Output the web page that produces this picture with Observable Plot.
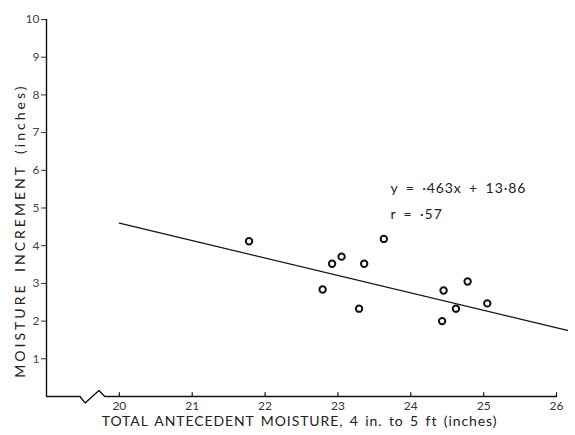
<!DOCTYPE html>
<html>
<head>
<meta charset="utf-8">
<script src="https://cdn.jsdelivr.net/npm/d3@7"></script>
<script src="https://cdn.jsdelivr.net/npm/@observablehq/plot@0.6"></script>
<style>
  html, body { margin: 0; padding: 0; background: #fff; }
  #chart svg { display: block; }
</style>
</head>
<body>
<div id="chart"></div>
<script>
// Observations: total antecedent moisture (in) vs moisture increment (in)
const antecedent = [21.78, 23.63, 23.05, 22.92, 23.36, 22.79, 23.29, 24.78, 24.45, 25.05, 24.62, 24.43];
const increment  = [4.12, 4.18, 3.71, 3.52, 3.52, 2.84, 2.33, 3.05, 2.81, 2.47, 2.33, 2.00];

// Regression: y = -0.463x + 13.86 (r = .57)
const slope = -0.463;
const intercept = 13.86;
const fitRange = [20, 26.15];

const xTicks = [20, 21, 22, 23, 24, 25, 26];
const yTicks = [1, 2, 3, 4, 5, 6, 7, 8, 9, 10];

// x-axis baseline with the scale-break zigzag
const axisBreakX = [19, 19.46, 19.53, 19.72, 19.80, 26];
const axisBreakY = [0, 0, -0.17, 0.16, 0, 0];

const equationLines = ["y = ·463x + 13·86", "r = ·57"];

const points = antecedent.map((x, i) => ({x, y: increment[i]}));
const fitLine = fitRange.map(x => ({x, y: slope * x + intercept}));
const baseline = axisBreakX.map((x, i) => ({x, y: axisBreakY[i]}));
const eqRows = equationLines.map((t, i) => ({t, x: 23.72, y: [5.52, 4.83][i]}));

const font = "Lato, 'DejaVu Sans', sans-serif";

const chart = Plot.plot({
  width: 575,
  height: 435,
  marginLeft: 46,
  marginRight: 19,
  marginTop: 19,
  marginBottom: 39,
  style: {fontFamily: font, fontSize: "12px", color: "#333", background: "#fff"},
  x: {domain: [19, 26]},
  y: {domain: [0, 10]},
  marks: [
    Plot.axisY(yTicks, {tickSize: 5, tickPadding: 2, fontSize: 12, label: null, fill: "#444"}),
    Plot.axisX(xTicks, {tickSize: 0, tickPadding: 5, fontSize: 12, label: null, fill: "#333"}),
    Plot.ruleX(xTicks, {x: d => d, y1: 0, y2: 0.1, stroke: "#111", strokeWidth: 1.2}),
    Plot.ruleX([19], {y1: 0, y2: 10, stroke: "#111", strokeWidth: 1.4}),
    Plot.line(baseline, {x: "x", y: "y", stroke: "#111", strokeWidth: 1.4}),
    Plot.line(fitLine, {x: "x", y: "y", stroke: "#111", strokeWidth: 1.3}),
    Plot.dot(points, {x: "x", y: "y", r: 3.2, stroke: "#111", strokeWidth: 2, fill: "none"}),
    Plot.text(eqRows, {x: "x", y: "y", text: "t", textAnchor: "start", fontSize: 14, fill: "#222"}),
    Plot.text(["MOISTURE INCREMENT (inches)"], {frameAnchor: "left", y: [4.4], dx: -26, rotate: -90, textAnchor: "middle", fontSize: 14, fill: "#222"}),
    Plot.text(["TOTAL ANTECEDENT MOISTURE, 4 in. to 5 ft (inches)"], {frameAnchor: "bottom", dy: 29, dx: -2, textAnchor: "middle", fontSize: 14, fill: "#222"})
  ]
});

// widen letter spacing of the axis titles and equation to match the original lettering
d3.select(chart).selectAll("text").each(function() {
  const t = this.textContent;
  if (t.startsWith("MOISTURE")) this.setAttribute("style", "letter-spacing:3px;word-spacing:4px");
  else if (t.startsWith("TOTAL")) this.setAttribute("style", "letter-spacing:0.9px;word-spacing:2px");
  else if (t.startsWith("y =") || t.startsWith("r =")) this.setAttribute("style", "letter-spacing:0.9px;word-spacing:3px");
});

document.getElementById("chart").append(chart);
</script>
</body>
</html>
